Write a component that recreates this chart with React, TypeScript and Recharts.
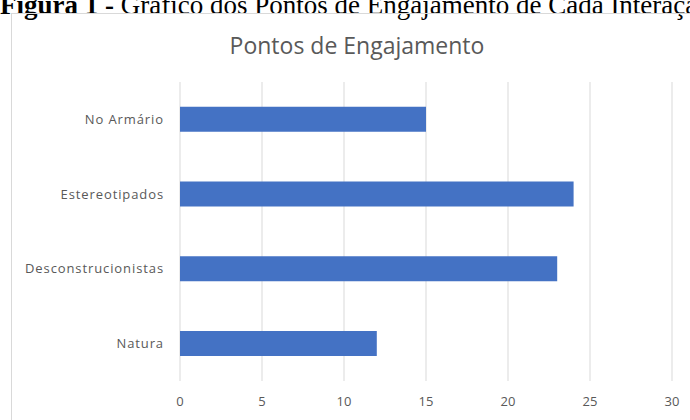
import React from 'react';
import { BarChart, Bar, XAxis, YAxis, CartesianGrid } from 'recharts';

const categories = ['No Armário', 'Estereotipados', 'Desconstrucionistas', 'Natura'];
const pontos = [15, 24, 23, 12];
const xTicks = [0, 5, 10, 15, 20, 25, 30];

const data = categories.map((name, i) => ({ name, pontos: pontos[i] }));

const FONT = '"Open Sans", Lato, sans-serif';

export default function App() {
    return (
        <div style={{ position: 'absolute', left: 0, top: 0, width: 690, height: 420, overflow: 'hidden', background: '#fff' }}>
            <div
                style={{
                    position: 'absolute',
                    left: 0,
                    top: -10,
                    whiteSpace: 'nowrap',
                    fontFamily: '"Liberation Serif", "Times New Roman", serif',
                    fontSize: 27,
                    color: '#000',
                }}
            >
                <b>Figura 1 -</b> Gráfico dos Pontos de Engajamento de Cada Interação
            </div>
            <div
                style={{
                    position: 'absolute',
                    left: 11,
                    top: 13,
                    width: 700,
                    height: 430,
                    border: '1px solid #d9d9d9',
                }}
            />
            <div
                style={{
                    position: 'absolute',
                    left: 11,
                    top: 29,
                    width: 692,
                    textAlign: 'center',
                    fontFamily: FONT,
                    fontSize: 23,
                    color: '#595959',
                }}
            >
                Pontos de Engajamento
            </div>
            <div style={{ position: 'absolute', left: 0, top: 0 }}>
                <BarChart
                    width={690}
                    height={420}
                    data={data}
                    layout='vertical'
                    margin={{ top: 82, right: 18, bottom: 9, left: 0 }}
                    barCategoryGap='33%'
                >
                    <CartesianGrid horizontal={false} vertical={true} stroke='#d9d9d9' />
                    <XAxis
                        type='number'
                        domain={[0, 30]}
                        ticks={xTicks}
                        height={30}
                        axisLine={false}
                        tickLine={false}
                        tickMargin={10}
                        tick={{ fill: '#595959', fontSize: 13, fontFamily: FONT }}
                    />
                    <YAxis
                        type='category'
                        dataKey='name'
                        width={180}
                        axisLine={false}
                        tickLine={false}
                        tickMargin={10}
                        tick={{ fill: '#595959', fontSize: 13, fontFamily: FONT, letterSpacing: 0.9 }}
                    />
                    <Bar dataKey='pontos' fill='#4472C4' isAnimationActive={false} />
                </BarChart>
            </div>
        </div>
    );
}
